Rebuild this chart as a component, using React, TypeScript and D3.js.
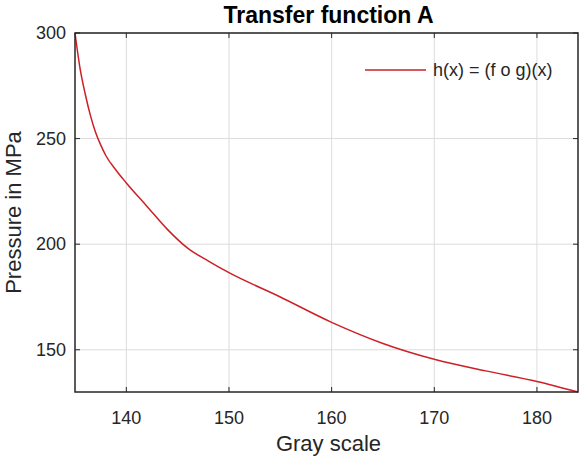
import React, { useEffect, useRef } from 'react';
import * as d3 from 'd3';

// gray level -> pressure (MPa)
const grayLevels = [135, 135.5, 136, 136.5, 137, 137.5, 138, 139, 140, 142, 144, 146, 148, 150, 155, 160, 165, 170, 175, 180, 184];
const pressures = [300, 283, 271, 261, 253, 247, 242, 235, 229, 218, 207, 198, 192, 186.5, 175, 163, 153, 145.5, 140, 135, 130];
const xTicks = [140, 150, 160, 170, 180];
const yTicks = [150, 200, 250, 300];
const seriesName = 'h(x) = (f o g)(x)';

const App: React.FC = () => {
  const svgRef = useRef<SVGSVGElement>(null);

  useEffect(() => {
    if (!svgRef.current) return;
    const svg = d3.select(svgRef.current);
    svg.selectAll('*').remove();

    const width = 580;
    const height = 459;
    const margin = { top: 33, right: 2, bottom: 67, left: 75 };
    const font = '"Liberation Sans", Arial, sans-serif';
    const textColor = '#262626';

    const x = d3.scaleLinear().domain([135, 184]).range([margin.left, width - margin.right]);
    const y = d3.scaleLinear().domain([130, 300]).range([height - margin.bottom, margin.top]);

    svg.append('rect').attr('width', width).attr('height', height).attr('fill', '#fff');

    const g = svg.append('g');

    // Grid
    g.selectAll('.vgrid')
      .data(xTicks)
      .enter()
      .append('line')
      .attr('x1', (d) => x(d))
      .attr('x2', (d) => x(d))
      .attr('y1', y(130))
      .attr('y2', y(300))
      .attr('stroke', '#dcdcdc')
      .attr('stroke-width', 1);

    g.selectAll('.hgrid')
      .data(yTicks)
      .enter()
      .append('line')
      .attr('x1', x(135))
      .attr('x2', x(184))
      .attr('y1', (d) => y(d))
      .attr('y2', (d) => y(d))
      .attr('stroke', '#dcdcdc')
      .attr('stroke-width', 1);

    // Curve
    const data = grayLevels.map((v, i) => ({ gx: v, p: pressures[i] }));
    const line = d3
      .line<{ gx: number; p: number }>()
      .x((d) => x(d.gx))
      .y((d) => y(d.p))
      .curve(d3.curveMonotoneX);

    g.append('path')
      .datum(data)
      .attr('d', line)
      .attr('fill', 'none')
      .attr('stroke', '#cc2027')
      .attr('stroke-width', 1.5);

    // Box
    g.append('rect')
      .attr('x', x(135))
      .attr('y', y(300))
      .attr('width', x(184) - x(135))
      .attr('height', y(130) - y(300))
      .attr('fill', 'none')
      .attr('stroke', '#262626')
      .attr('stroke-width', 1.5);

    // Tick marks (inward, all four sides)
    const tl = 5;
    xTicks.forEach((t) => {
      g.append('line').attr('x1', x(t)).attr('x2', x(t)).attr('y1', y(130)).attr('y2', y(130) - tl).attr('stroke', '#262626');
      g.append('line').attr('x1', x(t)).attr('x2', x(t)).attr('y1', y(300)).attr('y2', y(300) + tl).attr('stroke', '#262626');
    });
    yTicks.forEach((t) => {
      g.append('line').attr('x1', x(135)).attr('x2', x(135) + tl).attr('y1', y(t)).attr('y2', y(t)).attr('stroke', '#262626');
      g.append('line').attr('x1', x(184)).attr('x2', x(184) - tl).attr('y1', y(t)).attr('y2', y(t)).attr('stroke', '#262626');
    });

    // Tick labels
    g.selectAll('.xlabel')
      .data(xTicks)
      .enter()
      .append('text')
      .attr('x', (d) => x(d))
      .attr('y', y(130) + 32)
      .attr('text-anchor', 'middle')
      .attr('fill', textColor)
      .attr('font-family', font)
      .attr('font-size', '18px')
      .text((d) => d);

    g.selectAll('.ylabel')
      .data(yTicks)
      .enter()
      .append('text')
      .attr('x', x(135) - 9)
      .attr('y', (d) => y(d))
      .attr('dy', '0.35em')
      .attr('text-anchor', 'end')
      .attr('fill', textColor)
      .attr('font-family', font)
      .attr('font-size', '18px')
      .text((d) => d);

    // Axis titles
    svg.append('text')
      .attr('x', (x(135) + x(184)) / 2 + 2)
      .attr('y', 451)
      .attr('text-anchor', 'middle')
      .attr('fill', textColor)
      .attr('font-family', font)
      .attr('font-size', '22px')
      .text('Gray scale');

    svg.append('text')
      .attr('transform', `translate(21,${(y(130) + y(300)) / 2}) rotate(-90)`)
      .attr('text-anchor', 'middle')
      .attr('fill', textColor)
      .attr('font-family', font)
      .attr('font-size', '22px')
      .text('Pressure in MPa');

    svg.append('text')
      .attr('x', (x(135) + x(184)) / 2 + 2)
      .attr('y', 23)
      .attr('text-anchor', 'middle')
      .attr('fill', '#000')
      .attr('font-family', font)
      .attr('font-weight', 'bold')
      .attr('font-size', '23px')
      .text('Transfer function A');

    // Legend (no box)
    svg.append('line')
      .attr('x1', 365)
      .attr('x2', 426)
      .attr('y1', 70)
      .attr('y2', 70)
      .attr('stroke', '#cc2027')
      .attr('stroke-width', 1.5);

    svg.append('text')
      .attr('x', 433)
      .attr('y', 70)
      .attr('dy', '0.35em')
      .attr('fill', textColor)
      .attr('font-family', font)
      .attr('font-size', '18px')
      .text(seriesName);
  }, []);

  return (
    <svg
      ref={svgRef}
      width={580}
      height={459}
      style={{ position: 'absolute', left: 0, top: 0, display: 'block' }}
    />
  );
};

export default App;
